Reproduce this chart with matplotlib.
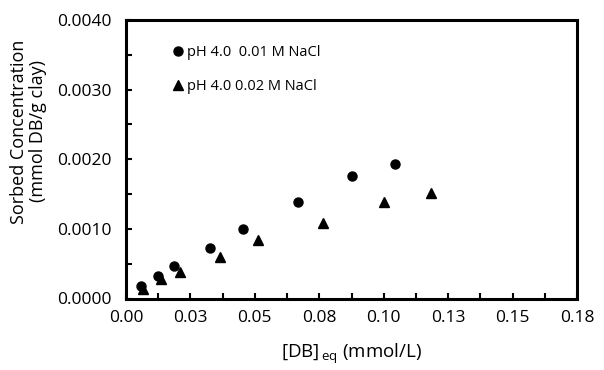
import matplotlib
matplotlib.use("Agg")
from matplotlib import pyplot as plt
from matplotlib.ticker import MultipleLocator, FormatStrFormatter

plt.rcParams['font.family'] = ['Open Sans', 'DejaVu Sans']

# pH 4.0, 0.01 M NaCl
x_01 = [0.0058, 0.0123, 0.0185, 0.0327, 0.0453, 0.0666, 0.0875, 0.1043]
y_01 = [0.00018, 0.00032, 0.00047, 0.00072, 0.00100, 0.00138, 0.00176, 0.00193]
# pH 4.0, 0.02 M NaCl
x_02 = [0.0067, 0.0136, 0.0210, 0.0366, 0.0512, 0.0765, 0.1001, 0.1185]
y_02 = [0.00014, 0.00028, 0.00038, 0.00060, 0.00084, 0.00109, 0.00138, 0.00151]

labels = ["pH 4.0  0.01 M NaCl", "pH 4.0 0.02 M NaCl"]

fig = plt.figure(figsize=(6.04, 3.70), dpi=100)
ax = fig.add_axes([126 / 604, 1 - 298.5 / 370, 451 / 604, 278.5 / 370])

ax.plot(x_01, y_01, 'o', color='black', markersize=6.5, label=labels[0])
ax.plot(x_02, y_02, '^', color='black', markersize=6.5, label=labels[1])

ax.set_xlim(0, 0.175)
ax.set_ylim(0, 0.004)
ax.xaxis.set_major_locator(MultipleLocator(0.025))
ax.xaxis.set_minor_locator(MultipleLocator(0.0125))
ax.yaxis.set_major_locator(MultipleLocator(0.001))
ax.yaxis.set_minor_locator(MultipleLocator(0.0005))
ax.xaxis.set_major_formatter(FormatStrFormatter('%.2f'))
ax.yaxis.set_major_formatter(FormatStrFormatter('%.4f'))
ax.tick_params(which='both', direction='in', length=4, width=1.5, labelsize=12.5)
ax.tick_params(axis='x', pad=8)
ax.tick_params(axis='y', pad=10)

for s in ax.spines.values():
    s.set_linewidth(2.2)

ax.set_xlabel("[DB]$_{\\,\\mathregular{eq}}$ (mmol/L)", fontsize=13.5)
ax.xaxis.set_label_coords(0.5, -0.155)
ax.set_ylabel("Sorbed Concentration\n(mmol DB/g clay)", fontsize=13, linespacing=1.05)
ax.yaxis.set_label_coords(-0.176, 0.6)

ax.legend(loc='upper left', bbox_to_anchor=(0.093, 0.93), frameon=False,
          handlelength=0.6, handletextpad=0.3, labelspacing=1.3, fontsize=10.5,
          borderaxespad=0)

fig.savefig("out.png", dpi=100)
